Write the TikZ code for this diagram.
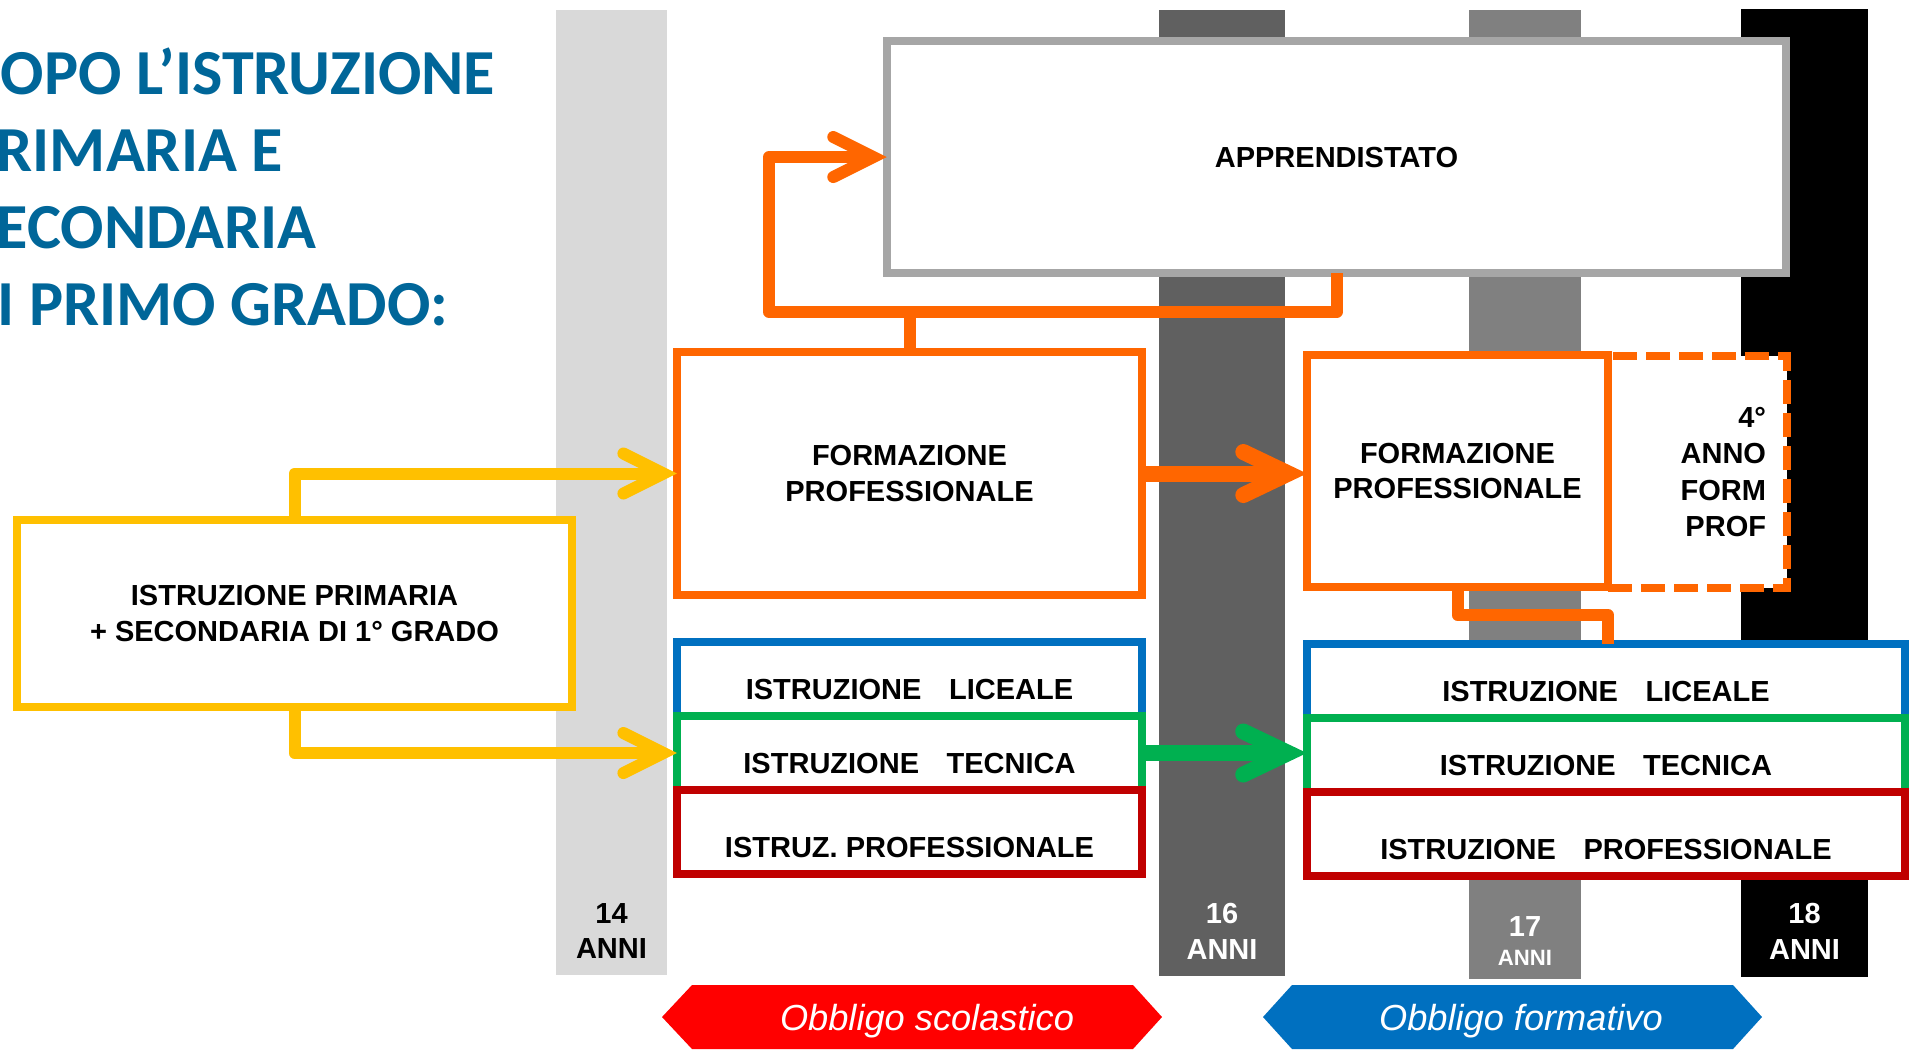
\documentclass[tikz,border=0pt]{standalone}
\usepackage{fontspec}
\setmainfont{Liberation Sans}
\newfontfamily\titlefont{Carlito}
\usetikzlibrary{arrows.meta}

\definecolor{titleblue}{RGB}{0,102,153}
\definecolor{orng}{RGB}{255,102,0}
\definecolor{yllw}{RGB}{255,192,0}
\definecolor{lblue}{RGB}{0,112,192}
\definecolor{grn}{RGB}{0,176,80}
\definecolor{dred}{RGB}{192,0,0}
\definecolor{obred}{RGB}{255,0,0}
\definecolor{boxgray}{RGB}{166,166,166}
\definecolor{bar14}{RGB}{217,217,217}
\definecolor{bar16}{RGB}{96,96,96}
\definecolor{bar17}{RGB}{128,128,128}

\tikzset{
  schoolbox/.style={draw, fill=white, line width=0.8mm, inner sep=0pt, outer sep=0pt,
    align=center, font=\fontsize{8.25}{10}\selectfont\bfseries},
  stacktext/.style={text height=4.1mm, text depth=0mm},
  titletext/.style={anchor=base west, inner sep=0pt, text=titleblue,
    font=\titlefont\bfseries\fontsize{18.25}{22}\selectfont},
  agelabel/.style={align=center, inner sep=0pt, font=\fontsize{8.25}{10.2}\selectfont\bfseries},
  bannertext/.style={anchor=base, inner sep=0pt, text=white, font=\fontsize{10.3}{12}\selectfont\itshape},
  thinarrow/.style={line width=1.2mm, line join=round,
    -{Straight Barb[length=4mm, width=4mm, line cap=round, line join=miter]}},
  thickarrow/.style={line width=1.6mm, line join=round,
    -{Straight Barb[length=4.5mm, width=4.3mm, line cap=round, line join=miter]}},
  link/.style={line width=1.2mm, line join=round}
}

\begin{document}
\begin{tikzpicture}[x=0.01cm, y=-0.01cm]
  \useasboundingbox (0,0) rectangle (1924,1053);

  % age bars
  \fill[bar14] (556,10) rectangle (667,975);
  \fill[bar16] (1159,10) rectangle (1285,976);
  \fill[bar17] (1469,10) rectangle (1581,979);
  \fill[black] (1741,9) rectangle (1868,977);

  \node[agelabel] (age14) at (611.5,931) {14\\ANNI};
  \node[agelabel, text=white] (age16) at (1222,931) {16\\ANNI};
  \node[agelabel, text=white, font=\fontsize{8.25}{8}\selectfont\bfseries] (age17) at (1525,941) {17\\{\fontsize{6.3}{8}\selectfont ANNI}};
  \node[agelabel, text=white] (age18) at (1804.5,931) {18\\ANNI};

  % title
  \node[titletext] (title1) at (0,94) {OPO L’ISTRUZIONE};
  \node[titletext] (title2) at (-4,171) {RIMARIA E};
  \node[titletext] (title3) at (-4,248) {ECONDARIA};
  \node[titletext] (title4) at (-3,325) {I PRIMO GRADO:};

  % boxes
  \node[schoolbox, draw=yllw, minimum width=5.55cm, minimum height=1.87cm] (istr) at (294.5,613.5) {ISTRUZIONE PRIMARIA\\+ SECONDARIA DI 1° GRADO};
  \node[schoolbox, draw=boxgray, minimum width=8.99cm, minimum height=2.32cm] (appr) at (1336.5,157) {APPRENDISTATO};
  \node[schoolbox, draw=orng, minimum width=4.65cm, minimum height=2.43cm] (form1) at (909.5,473.5) {FORMAZIONE\\PROFESSIONALE};

  \node[schoolbox, draw=lblue, stacktext, minimum width=4.65cm, minimum height=0.74cm] (lic1) at (909.5,679) {ISTRUZIONE\hspace{0.95em}LICEALE};
  \node[schoolbox, draw=grn, stacktext, minimum width=4.65cm, minimum height=0.74cm] (tec1) at (909.5,753) {ISTRUZIONE\hspace{0.95em}TECNICA};
  \node[schoolbox, draw=dred, stacktext, text height=5.1mm, minimum width=4.65cm, minimum height=0.84cm] (pro1) at (909.5,832) {ISTRUZ. PROFESSIONALE};

  \node[schoolbox, draw=orng, dash pattern=on 2.4mm off 0.9mm, minimum width=1.79cm, minimum height=2.32cm,
    text width=1.37cm, align=right, font=\fontsize{8.25}{10.3}\selectfont\bfseries] (anno4) at (1697.5,472) {4°\\ANNO\\FORM\\PROF};
  \node[schoolbox, draw=orng, minimum width=3.01cm, minimum height=2.32cm] (form2) at (1457.5,471) {FORMAZIONE\\PROFESSIONALE};

  \node[schoolbox, draw=lblue, stacktext, minimum width=5.98cm, minimum height=0.74cm] (lic2) at (1606,681) {ISTRUZIONE\hspace{0.95em}LICEALE};
  \node[schoolbox, draw=grn, stacktext, minimum width=5.98cm, minimum height=0.74cm] (tec2) at (1606,755) {ISTRUZIONE\hspace{0.95em}TECNICA};
  \node[schoolbox, draw=dred, stacktext, text height=5.1mm, minimum width=5.98cm, minimum height=0.84cm] (pro2) at (1606,834) {ISTRUZIONE\hspace{0.95em}PROFESSIONALE};

  % connectors
  \coordinate (loop) at (769,312);
  \draw[link, draw=orng] (form1.north) -- (form1.north |- loop);
  \draw[thinarrow, draw=orng] (appr.south) |- (loop) |- (appr.west);
  \draw[thinarrow, draw=yllw] (istr.north) |- (form1.west);
  \draw[thinarrow, draw=yllw] (istr.south) |- (tec1.west);
  \draw[thickarrow, draw=orng] (form1.east) -- (form1.east -| form2.west);
  \draw[thickarrow, draw=grn] (tec1.east) -- (tec1.east -| tec2.west);
  \draw[link, draw=orng] (form2.south) -- ++(0,28) -| (form2.south east |- lic2.north);

  % banners
  \fill[obred] (662,1017) -- (692,985) -- (1133,985) -- (1162,1017) -- (1133,1049) -- (692,1049) -- cycle;
  \node[bannertext] (scolastico) at (927,1030) {Obbligo scolastico};
  \fill[lblue] (1263,1017) -- (1292,985) -- (1733,985) -- (1762,1017) -- (1733,1049) -- (1292,1049) -- cycle;
  \node[bannertext] (formativo) at (1521,1030) {Obbligo formativo};
\end{tikzpicture}
\end{document}
